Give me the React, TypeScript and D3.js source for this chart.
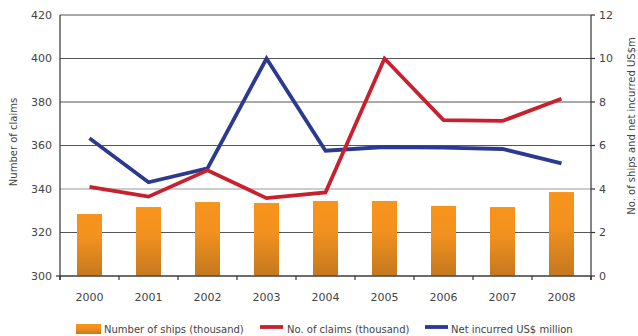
import React from "react";
import * as d3 from "d3";

const years = ["2000", "2001", "2002", "2003", "2004", "2005", "2006", "2007", "2008"];
const ships = [2.85, 3.17, 3.4, 3.36, 3.45, 3.45, 3.22, 3.17, 3.86];
const claims = [341, 336.5, 348.6, 335.8, 338.4, 400, 371.7, 371.3, 381.5];
const netIncurred = [6.33, 4.31, 4.95, 10.0, 5.76, 5.93, 5.9, 5.84, 5.18];
const leftTicks = [300, 320, 340, 360, 380, 400, 420];
const rightTicks = [0, 2, 4, 6, 8, 10, 12];

const W = 638;
const H = 336;
const m = { left: 60, right: 591, top: 15, bottom: 276 };
const font = "'DejaVu Sans', Verdana, sans-serif";
const textColor = "#444";

export default function App() {
  const xStep = (m.right - m.left) / years.length;
  const x = d3.scalePoint<string>().domain(years).range([m.left + xStep / 2, m.right - xStep / 2]);
  const yL = d3.scaleLinear().domain([300, 420]).range([m.bottom, m.top]);
  const yR = d3.scaleLinear().domain([0, 12]).range([m.bottom, m.top]);

  const claimsLine = d3
    .line<number>()
    .x((_, i) => x(years[i]) as number)
    .y((d) => yL(d));
  const netLine = d3
    .line<number>()
    .x((_, i) => x(years[i]) as number)
    .y((d) => yR(d));

  const bw = 25;

  return (
    <svg width={W} height={H} style={{ position: "absolute", left: 0, top: 0 }}>
      <defs>
        <linearGradient id="barGrad" x1="0" y1="0" x2="0" y2="1">
          <stop offset="0%" stopColor="#f7941d" />
          <stop offset="40%" stopColor="#f2911e" />
          <stop offset="100%" stopColor="#c5781f" />
        </linearGradient>
      </defs>
      <rect width={W} height={H} fill="#fff" />

      {/* gridlines */}
      {leftTicks.map((t) => (
        <line key={t} x1={m.left} x2={m.right} y1={yL(t)} y2={yL(t)} stroke={t === 340 ? "#999" : "#555"} strokeWidth={1.2} />
      ))}

      {/* bars */}
      {years.map((yr, i) => (
        <rect key={yr} x={(x(yr) as number) - bw / 2} width={bw} y={yR(ships[i])} height={m.bottom - yR(ships[i])} fill="url(#barGrad)" />
      ))}

      {/* lines */}
      <path d={netLine(netIncurred) || ""} fill="none" stroke="#2b3990" strokeWidth={3.8} strokeLinejoin="miter" />
      <path d={claimsLine(claims) || ""} fill="none" stroke="#c8202f" strokeWidth={3.8} strokeLinejoin="miter" />

      {/* axes */}
      <line x1={m.left} x2={m.left} y1={m.top} y2={m.bottom + 4} stroke="#333" strokeWidth={1.2} />
      <line x1={m.left - 4} x2={m.left} y1={m.bottom} y2={m.bottom} stroke="#333" strokeWidth={1.2} />
      <line x1={m.right} x2={m.right} y1={m.top} y2={m.bottom + 4} stroke="#333" strokeWidth={1.2} />
      <line x1={m.left} x2={m.right} y1={m.bottom} y2={m.bottom} stroke="#333" strokeWidth={1.2} />
      {d3.range(years.length + 1).map((i) => (
        <line key={i} x1={m.left + i * xStep} x2={m.left + i * xStep} y1={m.bottom} y2={m.bottom + 4} stroke="#333" strokeWidth={1.2} />
      ))}
      {rightTicks.map((t) => (
        <line key={t} x1={m.right} x2={m.right + 4} y1={yR(t)} y2={yR(t)} stroke="#333" strokeWidth={1.2} />
      ))}

      {/* tick labels */}
      {leftTicks.map((t) => (
        <text key={t} x={52} y={yL(t)} dy="0.35em" textAnchor="end" fontFamily={font} fontSize={11} fill={textColor}>
          {t}
        </text>
      ))}
      {rightTicks.map((t) => (
        <text key={t} x={599} y={yR(t)} dy="0.35em" textAnchor="start" fontFamily={font} fontSize={11} fill={textColor}>
          {t}
        </text>
      ))}
      {years.map((yr) => (
        <text key={yr} x={x(yr)} y={297} dy="0.35em" textAnchor="middle" fontFamily={font} fontSize={11} fill={textColor}>
          {yr}
        </text>
      ))}

      {/* axis titles */}
      <text transform={`translate(13,142) rotate(-90)`} textAnchor="middle" dy="0.35em" fontFamily={font} fontSize={10} fill={textColor}>
        Number of claims
      </text>
      <text transform={`translate(631,126) rotate(-90)`} textAnchor="middle" dy="0.35em" fontFamily={font} fontSize={10} fill={textColor}>
        No. of ships and net incurred US$m
      </text>

      {/* legend */}
      <rect x={76} y={324} width={25} height={10} fill="url(#barGrad)" />
      <text x={104} y={329} dy="0.35em" fontFamily={font} fontSize={10} fill={textColor}>
        Number of ships (thousand)
      </text>
      <line x1={260} x2={283} y1={327} y2={327} stroke="#c8202f" strokeWidth={3.8} />
      <text x={287} y={329} dy="0.35em" fontFamily={font} fontSize={10} fill={textColor}>
        No. of claims (thousand)
      </text>
      <line x1={425} x2={448} y1={327} y2={327} stroke="#2b3990" strokeWidth={3.8} />
      <text x={451} y={329} dy="0.35em" fontFamily={font} fontSize={10} fill={textColor}>
        Net incurred US$ million
      </text>
    </svg>
  );
}
